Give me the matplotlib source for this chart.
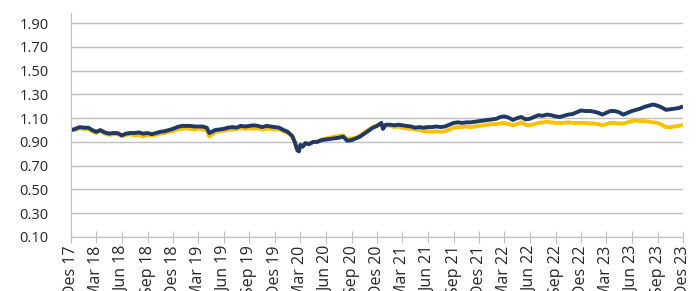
import matplotlib
matplotlib.use("Agg")
import matplotlib.pyplot as plt
import matplotlib.dates as mdates
import pandas as pd

plt.rcParams['font.family'] = ['Open Sans', 'DejaVu Sans']

# data (approximate, half-monthly)
dates = [
    "2017-12-01", "2017-12-16", "2018-01-01", "2018-01-16", "2018-02-01", "2018-02-15",
    "2018-03-01", "2018-03-16", "2018-04-01", "2018-04-16", "2018-05-01", "2018-05-16",
    "2018-06-01", "2018-06-16", "2018-07-01", "2018-07-16", "2018-08-01", "2018-08-16",
    "2018-09-01", "2018-09-16", "2018-10-01", "2018-10-16", "2018-11-01", "2018-11-16",
    "2018-12-01", "2018-12-16", "2019-01-01", "2019-01-16", "2019-02-01", "2019-02-15",
    "2019-03-01", "2019-03-16", "2019-04-01", "2019-04-10", "2019-04-19", "2019-05-01",
    "2019-05-16", "2019-06-01", "2019-06-16", "2019-07-01", "2019-07-16", "2019-08-01",
    "2019-08-16", "2019-09-01", "2019-09-16", "2019-10-01", "2019-10-16", "2019-11-01",
    "2019-11-16", "2019-12-01", "2019-12-16", "2020-01-01", "2020-01-16", "2020-02-01",
    "2020-02-10", "2020-02-19", "2020-02-25", "2020-03-01", "2020-03-10", "2020-03-19",
    "2020-04-01", "2020-04-16", "2020-05-01", "2020-05-16", "2020-06-01", "2020-06-16",
    "2020-07-01", "2020-07-16", "2020-08-01", "2020-08-16", "2020-09-01", "2020-09-16",
    "2020-10-01", "2020-10-16", "2020-11-01", "2020-11-16", "2020-12-01", "2020-12-16",
    "2020-12-22", "2021-01-01", "2021-01-16", "2021-02-01", "2021-02-15", "2021-03-01",
    "2021-03-16", "2021-04-01", "2021-04-16", "2021-05-01", "2021-05-16", "2021-06-01",
    "2021-06-16", "2021-07-01", "2021-07-16", "2021-08-01", "2021-08-16", "2021-09-01",
    "2021-09-16", "2021-10-01", "2021-10-16", "2021-11-01", "2021-11-16", "2021-12-01",
    "2021-12-16", "2022-01-01", "2022-01-16", "2022-02-01", "2022-02-15", "2022-03-01",
    "2022-03-16", "2022-04-01", "2022-04-16", "2022-05-01", "2022-05-16", "2022-06-01",
    "2022-06-16", "2022-07-01", "2022-07-16", "2022-08-01", "2022-08-16", "2022-09-01",
    "2022-09-16", "2022-10-01", "2022-10-16", "2022-11-01", "2022-11-16", "2022-12-01",
    "2022-12-16", "2023-01-01", "2023-01-16", "2023-02-01", "2023-02-15", "2023-03-01",
    "2023-03-16", "2023-04-01", "2023-04-16", "2023-05-01", "2023-05-16", "2023-06-01",
    "2023-06-16", "2023-07-01", "2023-07-16", "2023-08-01", "2023-08-16", "2023-09-01",
    "2023-09-16", "2023-10-01", "2023-10-16", "2023-11-01", "2023-11-16", "2023-12-01",
]

navy = [
    1.00, 1.01, 1.025, 1.02, 1.02, 1.00,
    0.985, 1.00, 0.98, 0.97, 0.975, 0.975,
    0.955, 0.97, 0.975, 0.975, 0.98, 0.97,
    0.975, 0.965, 0.975, 0.985, 0.99, 1.00,
    1.01, 1.025, 1.035, 1.035, 1.035, 1.03,
    1.03, 1.03, 1.02, 0.975, 0.985, 1.00,
    1.005, 1.01, 1.02, 1.025, 1.02, 1.035,
    1.03, 1.035, 1.04, 1.035, 1.025, 1.035,
    1.03, 1.025, 1.02, 1.00, 0.985, 0.95,
    0.90, 0.83, 0.82, 0.875, 0.86, 0.89,
    0.88, 0.90, 0.90, 0.915, 0.92, 0.925,
    0.93, 0.935, 0.945, 0.91, 0.915, 0.93,
    0.945, 0.97, 0.995, 1.02, 1.035, 1.06,
    1.01, 1.045, 1.045, 1.04, 1.045, 1.04,
    1.035, 1.03, 1.02, 1.025, 1.02, 1.025,
    1.025, 1.03, 1.025, 1.03, 1.045, 1.06,
    1.065, 1.06, 1.065, 1.065, 1.07, 1.075,
    1.08, 1.085, 1.09, 1.095, 1.11, 1.115,
    1.105, 1.085, 1.10, 1.11, 1.09, 1.095,
    1.11, 1.125, 1.12, 1.13, 1.125, 1.115,
    1.11, 1.12, 1.13, 1.135, 1.15, 1.165,
    1.16, 1.16, 1.155, 1.145, 1.13, 1.145,
    1.16, 1.16, 1.15, 1.13, 1.145, 1.16,
    1.17, 1.18, 1.195, 1.205, 1.215, 1.205,
    1.19, 1.17, 1.175, 1.18, 1.185, 1.20,
]

yellow = [
    1.00, 1.00, 1.015, 1.01, 1.01, 0.99,
    0.975, 0.99, 0.97, 0.96, 0.965, 0.965,
    0.95, 0.96, 0.965, 0.955, 0.96, 0.945,
    0.96, 0.955, 0.96, 0.97, 0.975, 0.985,
    0.99, 1.005, 1.01, 1.015, 1.01, 1.005,
    1.01, 1.005, 1.00, 0.945, 0.96, 0.985,
    0.99, 0.995, 1.00, 1.005, 1.01, 1.015,
    1.01, 1.015, 1.01, 1.015, 1.005, 1.01,
    1.01, 1.005, 1.005, 0.99, 0.975, 0.945,
    0.90, 0.84, 0.84, 0.87, 0.87, 0.89,
    0.885, 0.90, 0.905, 0.92, 0.93, 0.935,
    0.945, 0.95, 0.955, 0.925, 0.93, 0.935,
    0.955, 0.98, 1.005, 1.025, 1.04, 1.055,
    1.02, 1.04, 1.035, 1.025, 1.03, 1.02,
    1.015, 1.01, 1.005, 1.00, 0.99, 0.99,
    0.985, 0.99, 0.985, 0.99, 1.005, 1.02,
    1.025, 1.025, 1.03, 1.025, 1.03, 1.035,
    1.04, 1.045, 1.05, 1.05, 1.055, 1.06,
    1.05, 1.04, 1.05, 1.065, 1.045, 1.04,
    1.05, 1.06, 1.065, 1.07, 1.065, 1.06,
    1.06, 1.06, 1.065, 1.06, 1.06, 1.06,
    1.06, 1.055, 1.055, 1.05, 1.04, 1.05,
    1.06, 1.06, 1.055, 1.055, 1.065, 1.075,
    1.08, 1.075, 1.075, 1.07, 1.065, 1.06,
    1.045, 1.025, 1.025, 1.03, 1.035, 1.045,
]

tick_labels = ["Des 17", "Mar 18", "Jun 18", "Sep 18", "Des 18", "Mar 19", "Jun 19",
               "Sep 19", "Des 19", "Mar 20", "Jun 20", "Sep 20", "Des 20", "Mar 21",
               "Jun 21", "Sep 21", "Des 21", "Mar 22", "Jun 22", "Sep 22", "Des 22",
               "Mar 23", "Jun 23", "Sep 23", "Des 23"]
y_ticks = [0.10, 0.30, 0.50, 0.70, 0.90, 1.10, 1.30, 1.50, 1.70, 1.90]

x = pd.to_datetime(dates)
tick_dates = pd.date_range("2017-12-01", "2023-12-01", freq="3MS")

fig = plt.figure(figsize=(6.99, 2.91), dpi=100)
ax = fig.add_axes([0.1016, 0.1856, 0.8755, 0.7697])

ax.plot(x, yellow, color="#ffc000", lw=2.8, solid_capstyle="butt")
ax.plot(x, navy, color="#1f3864", lw=2.8, solid_capstyle="butt")

ax.set_xlim(tick_dates[0], tick_dates[-1])
ax.set_ylim(0.10, 1.985)
ax.set_yticks(y_ticks)
ax.set_yticklabels(["%.2f" % v for v in y_ticks], fontsize=10.5, color="#262626")
ax.set_xticks(tick_dates)
# labels run past the bottom edge, as in the source image
ax.set_xticklabels(tick_labels, rotation=90, fontsize=11.5, color="#262626")

ax.grid(axis="y", color="#bfbfbf", lw=1)
ax.set_axisbelow(True)
for s in ["top", "right"]:
    ax.spines[s].set_visible(False)
ax.spines["left"].set_color("#bfbfbf")
ax.spines["bottom"].set_color("#bfbfbf")
ax.tick_params(axis="y", length=0, pad=16)
ax.tick_params(axis="x", direction="inout", length=8, color="#bfbfbf", pad=2)

fig.savefig("out.png", dpi=100)
